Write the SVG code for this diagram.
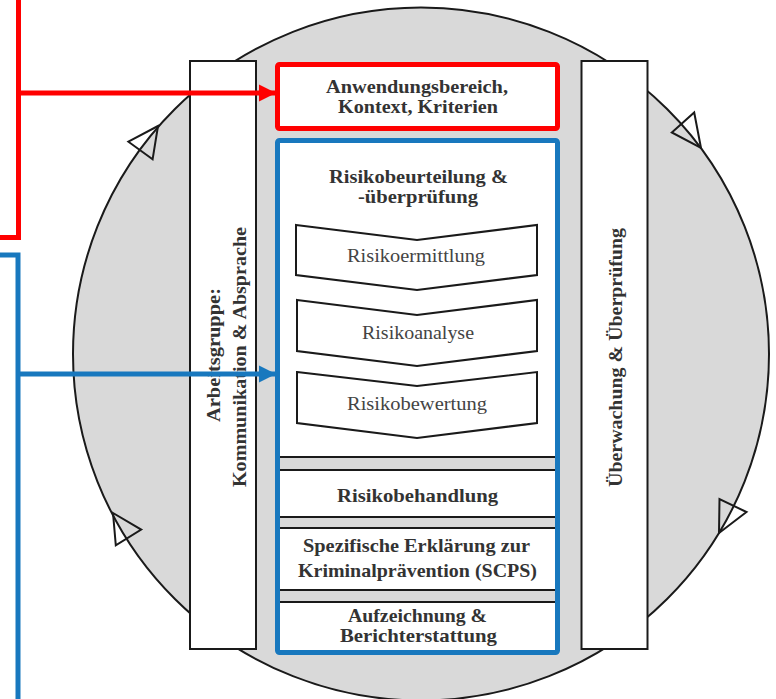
<svg xmlns="http://www.w3.org/2000/svg" width="776" height="699" viewBox="0 0 776 699">
<style>
.bold{font-family:"Liberation Serif","DejaVu Serif",serif;font-weight:bold;font-size:19px;fill:#333;text-anchor:middle}
.reg{font-family:"Liberation Serif","DejaVu Serif",serif;font-size:19px;fill:#444;text-anchor:middle}
.box{fill:#fff;stroke:#1a1a1a;stroke-width:2}
.tri{fill:none;stroke:#1a1a1a;stroke-width:2;stroke-linejoin:miter}
.sep{stroke:#1a1a1a;stroke-width:2}
.band{fill:#d9d9d9}
.red{fill:none;stroke:#ff0000;stroke-width:5}
.blue{fill:none;stroke:#1878be;stroke-width:5}
</style>
<defs>
<marker id="arrRed" markerUnits="userSpaceOnUse" markerWidth="18" markerHeight="18" refX="17" refY="9" orient="auto"><path d="M0,0.5 L17,9 L0,17.5 Z" fill="#ff0000"/></marker>
<marker id="arrBlue" markerUnits="userSpaceOnUse" markerWidth="18" markerHeight="18" refX="17" refY="9" orient="auto"><path d="M0,0.5 L17,9 L0,17.5 Z" fill="#1878be"/></marker>
</defs>
<rect width="776" height="699" fill="#fff"/>
<g id="cycle">
<ellipse cx="421" cy="354" rx="348" ry="346.5" fill="#d9d9d9" stroke="#1a1a1a" stroke-width="2"/>
<polygon class="tri" points="158,126 128.4,141.7 152.6,159.3"/>
<polygon class="tri" points="701,148 694.2,112.5 671.8,132.5"/>
<polygon class="tri" points="719,533 746.5,512 719.5,499"/>
<polygon class="tri" points="113,513 115.8,545.4 141.2,529.6"/>
</g>
<g id="arbeitsgruppe">
<rect class="box" x="190" y="61" width="66" height="588"/>
<text class="bold" transform="translate(220,355) rotate(-90)" textLength="134" lengthAdjust="spacingAndGlyphs">Arbeitsgruppe:</text>
<text class="bold" transform="translate(246,357) rotate(-90)" textLength="260" lengthAdjust="spacingAndGlyphs">Kommunikation &amp; Absprache</text>
</g>
<g id="ueberwachung">
<rect class="box" x="581.5" y="61" width="66" height="588"/>
<text class="bold" transform="translate(622,357.5) rotate(-90)" textLength="259" lengthAdjust="spacingAndGlyphs">Überwachung &amp; Überprüfung</text>
</g>
<g id="anwendungsbereich">
<rect x="277.5" y="64.5" width="280" height="64" rx="2" fill="#fff" stroke="#ff0000" stroke-width="5"/>
<text class="bold" x="417" y="93" textLength="182" lengthAdjust="spacingAndGlyphs">Anwendungsbereich,</text>
<text class="bold" x="418" y="113" textLength="160" lengthAdjust="spacingAndGlyphs">Kontext, Kriterien</text>
</g>
<g id="risikoprozess">
<rect x="277.5" y="140.5" width="280" height="512" rx="2" fill="#fff" stroke="#1878be" stroke-width="5"/>
<rect class="band" x="280" y="457" width="275" height="13"/>
<rect class="band" x="280" y="517" width="275" height="11"/>
<rect class="band" x="280" y="590" width="275" height="12"/>
<line class="sep" x1="280" y1="457" x2="555" y2="457"/>
<line class="sep" x1="280" y1="470" x2="555" y2="470"/>
<line class="sep" x1="280" y1="517" x2="555" y2="517"/>
<line class="sep" x1="280" y1="528" x2="555" y2="528"/>
<line class="sep" x1="280" y1="590" x2="555" y2="590"/>
<line class="sep" x1="280" y1="602" x2="555" y2="602"/>
</g>
<g id="risikobeurteilung">
<text class="bold" x="418.5" y="183" textLength="179" lengthAdjust="spacingAndGlyphs">Risikobeurteilung &amp;</text>
<text class="bold" x="418" y="203" textLength="120" lengthAdjust="spacingAndGlyphs">-überprüfung</text>
</g>
<g id="risikoermittlung">
<polygon class="tri" points="296,225 417,240 537,225 537,275 417,290 296,275" fill="#fff" style="fill:#fff"/>
<text class="reg" x="416" y="262" textLength="138" lengthAdjust="spacingAndGlyphs">Risikoermittlung</text>
</g>
<g id="risikoanalyse">
<polygon class="tri" points="297,300 417,315 537,300 537,351 417,366 297,351" style="fill:#fff"/>
<text class="reg" x="418" y="339" textLength="112" lengthAdjust="spacingAndGlyphs">Risikoanalyse</text>
</g>
<g id="risikobewertung">
<polygon class="tri" points="297,372 417,386 537,372 537,423 417,438 297,423" style="fill:#fff"/>
<text class="reg" x="417" y="410" textLength="140" lengthAdjust="spacingAndGlyphs">Risikobewertung</text>
</g>
<g id="risikobehandlung">
<text class="bold" x="417.5" y="502" textLength="161" lengthAdjust="spacingAndGlyphs">Risikobehandlung</text>
</g>
<g id="scps">
<text class="bold" x="416.5" y="552" textLength="227" lengthAdjust="spacingAndGlyphs">Spezifische Erklärung zur</text>
<text class="bold" x="417.5" y="577" textLength="239" lengthAdjust="spacingAndGlyphs">Kriminalprävention (SCPS)</text>
</g>
<g id="aufzeichnung">
<text class="bold" x="417.5" y="622" textLength="139" lengthAdjust="spacingAndGlyphs">Aufzeichnung &amp;</text>
<text class="bold" x="418.5" y="642" textLength="157" lengthAdjust="spacingAndGlyphs">Berichterstattung</text>
</g>
<g id="connectors">
<path class="red" d="M0,237.5 H18.5 V0"/>
<path class="red" d="M18.5,93 H276" marker-end="url(#arrRed)"/>
<path class="blue" d="M0,255 H18 V699"/>
<path class="blue" d="M18,374 H276" marker-end="url(#arrBlue)"/>
</g>
</svg>
